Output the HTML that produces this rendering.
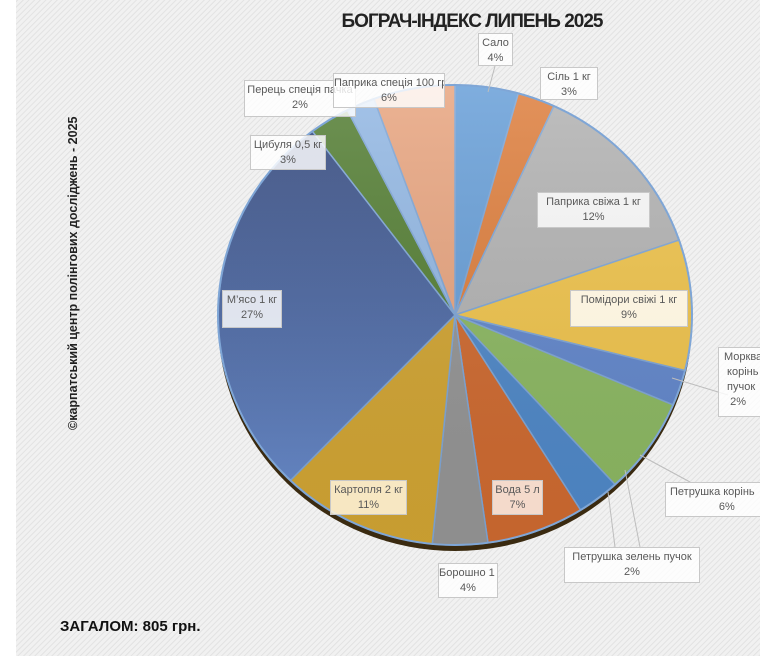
<!DOCTYPE html>
<html><head><meta charset="utf-8"><style>
html,body{margin:0;padding:0;background:#fff;}
#wrap{position:relative;width:760px;height:666px;overflow:hidden;font-family:"Liberation Sans","DejaVu Sans",sans-serif;}
.lbl{position:absolute;background:rgba(255,255,255,0.82);border:1px solid #c8c8c8;color:#595959;font-size:11px;line-height:15px;text-align:center;box-sizing:border-box;padding-top:2px;white-space:nowrap;overflow:hidden;}
</style></head><body>
<div id="wrap">
<svg width="760" height="666" style="position:absolute;left:0;top:0">
<defs>
<pattern id="hatch" width="4" height="4" patternUnits="userSpaceOnUse" patternTransform="rotate(45)">
<rect width="4" height="4" fill="#f1f1f1"/><rect width="1" height="4" fill="#e2e2e2"/>
</pattern>
<linearGradient id="g0" x1="0" y1="0" x2="0" y2="1"><stop offset="0" stop-color="#fff" stop-opacity="0.15"/><stop offset="1" stop-color="#000" stop-opacity="0.05"/></linearGradient>
<linearGradient id="meat" x1="0" y1="0" x2="0" y2="1"><stop offset="0" stop-color="#34497e"/><stop offset="1" stop-color="#6688c8"/></linearGradient>
</defs>
<rect x="16" y="0" width="744" height="656" fill="url(#hatch)"/>
<ellipse cx="455" cy="321" rx="237" ry="230" fill="#3a2a10"/>
<g id="pie"></g>
<text x="472" y="27" text-anchor="middle" font-size="19" font-weight="bold" fill="#222" letter-spacing="-1">БОГРАЧ-ІНДЕКС ЛИПЕНЬ 2025</text>
<text transform="translate(77,430) rotate(-90)" font-size="12.5" font-weight="bold" fill="#222">©карпатський центр полінгових досліджень - 2025</text>
<text x="60" y="631" font-size="15" font-weight="bold" fill="#111">ЗАГАЛОМ: 805 грн.</text>
<g stroke="#bdbdbd" fill="none" stroke-width="1">
<polyline points="495,66 488,92"/>
<polyline points="728,395 672,378"/>
<polyline points="690,482 640,455"/>
<polyline points="615,547 608,492"/>
<polyline points="640,547 625,470"/>
</g>
</svg>
<div class="lbl" style="left:478px;top:33px;width:35px;height:33px">Сало<br>4%</div>
<div class="lbl" style="left:540px;top:67px;width:58px;height:33px">Сіль 1 кг<br>3%</div>
<div class="lbl" style="left:244px;top:80px;width:112px;height:37px">Перець спеція пачка<br>2%</div>
<div class="lbl" style="left:333px;top:73px;width:112px;height:35px">Паприка спеція 100 гр<br>6%</div>
<div class="lbl" style="left:250px;top:135px;width:76px;height:35px">Цибуля 0,5 кг<br>3%</div>
<div class="lbl" style="left:537px;top:192px;width:113px;height:36px">Паприка свіжа 1 кг<br>12%</div>
<div class="lbl" style="left:570px;top:290px;width:118px;height:37px">Помідори свіжі 1 кг<br>9%</div>
<div class="lbl" style="left:222px;top:290px;width:60px;height:38px">М’ясо 1 кг<br>27%</div>
<div class="lbl" style="left:718px;top:347px;width:60px;height:70px;text-align:left;padding-left:5px">Морква<br>&nbsp;корінь<br>&nbsp;пучок<br>&nbsp;&nbsp;2%</div>
<div class="lbl" style="left:665px;top:482px;width:110px;height:35px;text-align:left;padding-left:4px">Петрушка корінь<br>&nbsp;&nbsp;&nbsp;&nbsp;&nbsp;&nbsp;&nbsp;&nbsp;&nbsp;&nbsp;&nbsp;&nbsp;&nbsp;&nbsp;&nbsp;&nbsp;6%</div>
<div class="lbl" style="left:564px;top:547px;width:136px;height:36px">Петрушка зелень пучок<br>2%</div>
<div class="lbl" style="left:438px;top:563px;width:60px;height:35px">Борошно 1 кг<br>4%</div>
<div class="lbl" style="left:330px;top:480px;width:77px;height:35px;background:rgba(255,245,220,0.85)">Картопля 2 кг<br>11%</div>
<div class="lbl" style="left:492px;top:480px;width:51px;height:35px;background:rgba(250,235,225,0.88)">Вода 5 л<br>7%</div>
</div>
<script>
var cx=455,cy=315,rx=237,ry=230;
var b=[0,15.5,24.7,71,104,113,137.5,148,172,185.5,224,323,333,340,360];
var c=["#689fd8","#de7f3e","#b3b3b3","#f0c44c","#6287cc","#8cb862","#4f88c8","#cf6a30","#959595","#d2a533","url(#meat)","#557f35","#93b8e4","#e8a580"];
var g=document.getElementById("pie"),s="";
function pt(a){a=a*Math.PI/180;return (cx+rx*Math.sin(a)).toFixed(1)+","+(cy-ry*Math.cos(a)).toFixed(1);}
for(var i=0;i<c.length;i++){
 var a0=b[i],a1=b[i+1],lg=(a1-a0)>180?1:0;
 s+='<path d="M'+cx+','+cy+' L'+pt(a0)+' A'+rx+','+ry+' 0 '+lg+' 1 '+pt(a1)+' Z" fill="'+c[i]+'" stroke="#7fa6d6" stroke-width="1.5"/>';
}
s+='<ellipse cx="'+cx+'" cy="'+cy+'" rx="'+rx+'" ry="'+ry+'" fill="url(#g0)" stroke="#7fa6d6" stroke-width="2"/>';
g.innerHTML=s;
</script>
</body></html>
